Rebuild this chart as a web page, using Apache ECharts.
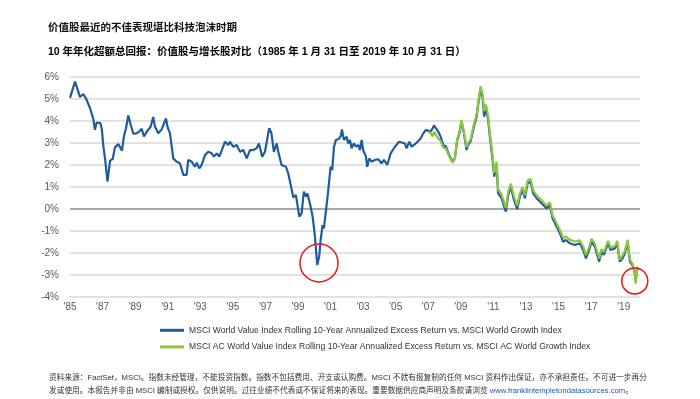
<!DOCTYPE html>
<html lang="zh">
<head>
  <meta charset="UTF-8">
  <title>价值股最近的不佳表现堪比科技泡沫时期</title>
  <script src="https://cdn.jsdelivr.net/npm/echarts@6.0.0/dist/echarts.min.js"></script>
  <style>
    html, body { margin: 0; padding: 0; background: #fff; }
  </style>
</head>
<body>
<div id="main" style="width: 700px;height:399px;"></div>
<script type="text/javascript">

  // 年份（小数表示月份）与数值（%）
  const worldYears = [
    1985.00, 1985.31, 1985.43, 1985.61, 1985.83, 1986.03, 1986.23, 1986.43, 1986.53, 1986.64,
    1986.87, 1986.96, 1987.04, 1987.15, 1987.30, 1987.46, 1987.62, 1987.76, 1987.97, 1988.07,
    1988.19, 1988.31, 1988.44, 1988.58, 1988.73, 1988.89, 1989.09, 1989.30, 1989.40, 1989.54,
    1989.75, 1989.95, 1990.11, 1990.22, 1990.42, 1990.63, 1990.89, 1991.00, 1991.14, 1991.34,
    1991.55, 1991.75, 1991.96, 1992.16, 1992.26, 1992.47, 1992.57, 1992.67, 1992.78, 1992.94,
    1993.08, 1993.29, 1993.39, 1993.49, 1993.70, 1993.84, 1994.01, 1994.17, 1994.31, 1994.52,
    1994.72, 1994.82, 1995.02, 1995.23, 1995.44, 1995.64, 1995.85, 1996.05, 1996.25, 1996.46,
    1996.60, 1996.80, 1996.97, 1997.23, 1997.37, 1997.52, 1997.69, 1997.79, 1997.99, 1998.26,
    1998.40, 1998.61, 1998.71, 1998.87, 1999.08, 1999.22, 1999.36, 1999.49, 1999.57, 1999.73,
    1999.90, 2000.04, 2000.18, 2000.30, 2000.39, 2000.51, 2000.59, 2000.72, 2000.86, 2001.00,
    2001.10, 2001.21, 2001.33, 2001.47, 2001.62, 2001.70, 2001.82, 2001.99, 2002.08, 2002.19,
    2002.29, 2002.43, 2002.56, 2002.70, 2002.80, 2002.91, 2003.00, 2003.17, 2003.25, 2003.37,
    2003.52, 2003.72, 2003.93, 2004.13, 2004.28, 2004.48, 2004.69, 2004.95, 2005.21, 2005.42,
    2005.56, 2005.67, 2005.83, 2005.98, 2006.12, 2006.28, 2006.38, 2006.53, 2006.69, 2006.85,
    2006.99, 2007.14, 2007.27, 2007.35, 2007.47, 2007.61, 2007.75, 2007.92, 2008.08, 2008.28,
    2008.49, 2008.63, 2008.78, 2008.90, 2009.04, 2009.19, 2009.35, 2009.44, 2009.59, 2009.80,
    2009.97, 2010.09, 2010.21, 2010.33, 2010.43, 2010.54, 2010.68, 2010.78, 2010.95, 2011.05,
    2011.19, 2011.29, 2011.50, 2011.76, 2011.91, 2012.07, 2012.26, 2012.46, 2012.62, 2012.79,
    2012.93, 2013.10, 2013.28, 2013.44, 2013.65, 2013.96, 2014.26, 2014.47, 2014.63, 2014.88,
    2015.08, 2015.28, 2015.45, 2015.69, 2016.00, 2016.31, 2016.51, 2016.68, 2016.88, 2017.02,
    2017.23, 2017.49, 2017.64, 2017.78, 2018.04, 2018.19, 2018.46, 2018.60, 2018.76, 2018.93,
    2019.07, 2019.24, 2019.38, 2019.54, 2019.68, 2019.74, 2019.80, 2019.87
  ];
  const worldValues = [
    5.05, 5.79, 5.71, 5.10, 5.22, 4.95, 4.58, 4.10, 3.60, 3.93,
    3.90, 3.60, 2.90, 2.30, 1.25, 2.20, 2.27, 2.80, 2.95, 3.04,
    2.65, 3.30, 3.67, 4.25, 3.82, 3.42, 3.44, 3.55, 3.65, 3.30,
    3.55, 3.74, 4.18, 3.74, 3.44, 3.62, 4.12, 3.70, 3.44, 2.30,
    2.15, 2.08, 1.55, 1.55, 2.23, 2.15, 2.23, 1.92, 2.10, 1.85,
    2.00, 2.45, 2.38, 2.60, 2.53, 2.38, 2.53, 2.38, 2.65, 3.06,
    2.91, 3.06, 2.83, 2.91, 2.60, 2.68, 2.30, 2.68, 2.68, 2.76,
    2.98, 2.38, 2.60, 3.67, 3.44, 2.60, 2.98, 2.60, 2.00, 1.92,
    1.62, 0.90, 0.52, 0.64, -0.35, -0.20, 0.79, 0.56, 0.71, 0.26,
    -0.35, -1.26, -2.55, -2.17, -1.41, -0.73, -0.88, -0.05, 0.86, 1.92,
    1.77, 2.83, 3.14, 3.17, 3.29, 3.62, 3.14, 3.29, 2.98, 3.14,
    2.76, 2.98, 2.83, 2.91, 2.68, 3.14, 2.68, 2.38, 1.92, 2.30,
    2.15, 2.23, 2.26, 2.08, 2.23, 2.00, 2.53, 2.83, 3.06, 3.01,
    2.98, 2.76, 3.06, 2.83, 2.91, 3.01, 2.98, 3.21, 3.44, 3.59,
    3.56, 3.52, 3.67, 3.80, 3.77, 3.52, 3.30, 2.90, 2.85, 2.45,
    2.15, 2.30, 3.14, 3.40, 3.97, 3.44, 2.68, 2.91, 3.06, 3.74,
    4.20, 4.88, 5.49, 5.10, 4.20, 4.58, 4.05, 3.29, 2.23, 1.47,
    2.00, 0.71, 0.49, -0.12, 0.64, 1.01, 0.41, -0.01, 0.56, 0.86,
    0.49, 1.17, 1.24, 0.71, 0.49, 0.26, 0.03, 0.18, -0.42, -0.80,
    -1.10, -1.49, -1.41, -1.56, -1.64, -1.56, -1.86, -2.24, -1.86, -1.49,
    -1.71, -2.39, -1.94, -2.09, -1.56, -1.86, -1.79, -1.56, -2.39, -2.24,
    -2.01, -1.49, -2.39, -2.55, -2.92, -3.30, -2.77, -2.70
  ];

  const acwiYears = [
    2006.99, 2007.14, 2007.27, 2007.35, 2007.47, 2007.61, 2007.75, 2007.92, 2008.08, 2008.28,
    2008.49, 2008.63, 2008.78, 2008.90, 2009.04, 2009.19, 2009.35, 2009.44, 2009.59, 2009.80,
    2009.97, 2010.09, 2010.21, 2010.33, 2010.43, 2010.54, 2010.68, 2010.78, 2010.95, 2011.05,
    2011.19, 2011.29, 2011.50, 2011.76, 2011.91, 2012.07, 2012.26, 2012.46, 2012.62, 2012.79,
    2012.93, 2013.10, 2013.28, 2013.44, 2013.65, 2013.96, 2014.26, 2014.47, 2014.63, 2014.88,
    2015.08, 2015.28, 2015.45, 2015.69, 2016.00, 2016.31, 2016.51, 2016.68, 2016.88, 2017.02,
    2017.23, 2017.49, 2017.64, 2017.78, 2018.04, 2018.19, 2018.46, 2018.60, 2018.76, 2018.93,
    2019.07, 2019.24, 2019.38, 2019.54, 2019.68, 2019.74, 2019.80, 2019.87
  ];
  const acwiValues = [
    3.50, 3.45, 3.30, 3.52, 3.45, 3.20, 3.10, 2.80, 2.75, 2.40,
    2.10, 2.30, 3.20, 3.45, 4.05, 3.50, 2.80, 3.00, 3.15, 3.85,
    4.30, 5.00, 5.58, 5.25, 4.45, 4.75, 4.20, 3.45, 2.40, 1.62,
    2.15, 0.90, 0.65, 0.05, 0.80, 1.15, 0.58, 0.15, 0.70, 1.00,
    0.62, 1.30, 1.38, 0.85, 0.62, 0.40, 0.15, 0.30, -0.30, -0.65,
    -0.95, -1.32, -1.25, -1.40, -1.48, -1.42, -1.70, -2.10, -1.72, -1.35,
    -1.57, -2.25, -1.82, -1.96, -1.45, -1.75, -1.68, -1.45, -2.30, -2.12,
    -1.90, -1.40, -2.30, -2.48, -2.85, -3.40, -2.70, -2.62
  ];

  // 红圈标注（年份，数值，直径）
  const circleMarks = [[2000.29, -2.45, 38], [2019.68, -3.27, 26]];

  const labelYears = [1985, 1987, 1989, 1991, 1993, 1995, 1997, 1999, 2001, 2003, 2005, 2007, 2009, 2011, 2013, 2015, 2017, 2019];
  const xTickLabels = labelYears.map(y => "'" + String(y).slice(2));

  const seriesNames = [
    'MSCI World Value Index Rolling 10-Year Annualized Excess Return vs. MSCI World Growth Index',
    'MSCI AC World Value Index Rolling 10-Year Annualized Excess Return vs. MSCI AC World Growth Index'
  ];

  const titleText = '价值股最近的不佳表现堪比科技泡沫时期';
  const subText = '10 年年化超额总回报：价值股与增长股对比（1985 年 1 月 31 日至 2019 年 10 月 31 日）';
  const noteLine1 = '资料来源：FactSet，MSCI。指数未经管理，不能投资指数。指数不包括费用、开支或认购费。MSCI 不就有报复制的任何 MSCI 资料作出保证，亦不承担责任。不可进一步再分';
  const noteLine2 = '发或使用。本报告并非由 MSCI 编制或授权。仅供说明。过往业绩不代表或不保证将来的表现。重要数据供应商声明及条款请浏览 ';
  const noteLink = 'www.franklintempletondatasources.com';

  const FONT = "'Liberation Sans', 'Noto Sans CJK SC', sans-serif";
  const BLUE = '#1f5c9e';
  const GREEN = '#8cc63e';

  const worldData = worldYears.map((y, i) => [y, worldValues[i]]);
  const acwiData = acwiYears.map((y, i) => [y, acwiValues[i]]);

  // 0% 网格线颜色更深
  const gridColors = [];
  for (let v = -4; v <= 6; v++) gridColors.push(v === 0 ? '#8c8c8c' : '#d9d9d9');

  var myChart = echarts.init(document.getElementById('main'));

  myChart.setOption({
    animation: false,
    backgroundColor: '#fff',
    textStyle: { fontFamily: FONT },
    title: [
      {
        text: titleText, left: 43, top: 18,
        textStyle: { fontSize: 10.5, fontWeight: 'bold', color: '#111', fontFamily: FONT }
      },
      {
        text: subText, left: 43, top: 42,
        textStyle: { fontSize: 10.5, fontWeight: 'bold', color: '#000', fontFamily: FONT }
      },
      {
        text: noteLine1 + '\n' + noteLine2 + '{link|' + noteLink + '}。',
        left: 44, top: 366,
        textStyle: {
          fontSize: 7.7, fontWeight: 'normal', color: '#333', lineHeight: 13, fontFamily: FONT,
          rich: { link: { fontSize: 7.7, color: '#1a56b8', fontFamily: FONT } }
        }
      }
    ],
    legend: {
      orient: 'vertical',
      left: 155,
      top: 321,
      itemGap: 8,
      itemWidth: 24,
      itemHeight: 3,
      icon: 'rect',
      textStyle: { fontSize: 8.6, color: '#333', fontFamily: FONT },
      data: seriesNames
    },
    grid: { left: 70, right: 60, top: 77, bottom: 102, containLabel: false },
    xAxis: {
      type: 'value',
      min: 1985,
      max: 2020,
      interval: 1,
      axisLine: { show: false },
      axisTick: { show: false },
      splitLine: { show: false },
      axisLabel: {
        margin: 5,
        fontSize: 10,
        color: '#595959',
        fontFamily: FONT,
        showMaxLabel: false,
        formatter: function (v) {
          const i = labelYears.indexOf(Math.round(v));
          return i >= 0 ? xTickLabels[i] : '';
        }
      }
    },
    yAxis: {
      type: 'value',
      min: -4,
      max: 6,
      interval: 1,
      axisLine: { show: false },
      axisTick: { show: false },
      splitLine: { show: true, lineStyle: { color: gridColors, width: 1.5 } },
      axisLabel: { margin: 11, fontSize: 10, color: '#595959', fontFamily: FONT, formatter: '{value}%' }
    },
    series: [
      {
        name: seriesNames[0],
        type: 'line',
        data: worldData,
        showSymbol: false,
        color: BLUE,
        lineStyle: { width: 2.2, color: BLUE },
        z: 2,
        markPoint: {
          symbol: 'circle',
          silent: true,
          itemStyle: { color: 'rgba(0,0,0,0)', borderColor: '#e3191c', borderWidth: 1.5 },
          label: { show: false },
          data: circleMarks.map(c => ({ coord: [c[0], c[1]], symbolSize: c[2] }))
        }
      },
      {
        name: seriesNames[1],
        type: 'line',
        data: acwiData,
        showSymbol: false,
        color: GREEN,
        lineStyle: { width: 2.2, color: GREEN },
        z: 3
      }
    ]
  });

</script>
</body>
</html>
